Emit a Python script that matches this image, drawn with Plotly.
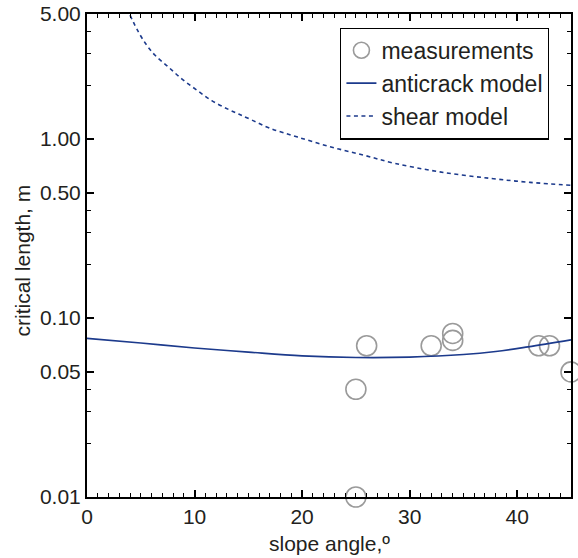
import plotly.graph_objects as go
import numpy as np

# Measurements
meas_angle = [25, 25, 26, 32, 34, 34, 42, 43, 45]
meas_length = [0.01, 0.04, 0.07, 0.07, 0.082, 0.075, 0.07, 0.07, 0.05]

# Anticrack model
anti_angle = [0, 5, 10, 15, 20, 25, 30, 35, 38, 41, 45]
anti_length = [0.077, 0.0725, 0.068, 0.0645, 0.0615, 0.0602, 0.0605, 0.0625, 0.065, 0.069, 0.0755]

# Shear model
shear_angle = [4.0, 4.77, 5.55, 6.33, 7.56, 8.81, 10.2, 11.6, 13.1, 14.1, 15.3, 17.0, 19.5,
               22.6, 25.7, 28.6, 32.8, 37.5, 41.2, 45.0]
shear_length = [4.93, 3.98, 3.35, 2.94, 2.53, 2.17, 1.88, 1.64, 1.47, 1.38, 1.28, 1.15, 1.03,
                0.906, 0.814, 0.732, 0.656, 0.603, 0.573, 0.552]

# Axis ticks
x_ticks = [0, 10, 20, 30, 40]
x_minor = [v for v in range(0, 46) if v % 10 != 0]
y_ticks = [0.01, 0.05, 0.1, 0.5, 1, 5]
y_tick_labels = ["0.01", "0.05", "0.10", "0.50", "1.00", "5.00"]
y_minor = [0.02, 0.03, 0.04, 0.2, 0.3, 0.4, 2, 3, 4]

NAVY = "#1c3a8c"
FONT = "Liberation Sans, Arial, sans-serif"
TXT = "#231f20"

fig = go.Figure()
fig.add_trace(go.Scatter(
    x=meas_angle, y=meas_length, mode="markers", name="measurements",
    marker=dict(symbol="circle-open", size=20, color="#9a9a9a", line=dict(width=1.6, color="#9a9a9a")),
    cliponaxis=False,
))
fig.add_trace(go.Scatter(
    x=anti_angle, y=anti_length, mode="lines", name="anticrack model",
    line=dict(color=NAVY, width=1.6, shape="spline"),
))
fig.add_trace(go.Scatter(
    x=shear_angle, y=shear_length, mode="lines", name="shear model",
    line=dict(color=NAVY, width=1.6, dash="4px,3.5px", shape="spline"),
))

fig.update_layout(
    width=578, height=558,
    margin=dict(l=87, r=7, t=14, b=61, autoexpand=False),
    paper_bgcolor="white", plot_bgcolor="white",
    font=dict(family=FONT, size=21, color=TXT),
    showlegend=True,
    legend=dict(
        x=0.523, y=0.972, xanchor="left", yanchor="top",
        bgcolor="white", bordercolor="black", borderwidth=1.3,
        font=dict(family=FONT, size=23, color=TXT),
        itemwidth=30, tracegroupgap=0,
    ),
    annotations=[
        dict(text="slope angle,º", xref="paper", yref="paper", x=0.5, y=-0.096,
             xanchor="center", yanchor="middle", showarrow=False,
             font=dict(family=FONT, size=21, color=TXT)),
        dict(text="critical length, m", xref="paper", yref="paper", x=-0.134, y=0.49,
             xanchor="center", yanchor="middle", showarrow=False, textangle=-90,
             font=dict(family=FONT, size=21, color=TXT)),
    ],
)

fig.update_xaxes(
    range=[0, 45], tickmode="array", tickvals=x_ticks, automargin=False,
    ticks="inside", ticklen=7, tickwidth=1.5, tickcolor="black",
    minor=dict(tickvals=x_minor, ticks="inside", ticklen=4, tickwidth=1.2, tickcolor="black"),
    showline=True, linecolor="black", linewidth=2, mirror="ticks",
    showgrid=False, zeroline=False,
    tickfont=dict(family=FONT, size=21, color=TXT),
)
fig.update_yaxes(
    type="log", range=[-2, np.log10(5) + 1e-9], automargin=False,
    tickmode="array", tickvals=y_ticks, ticktext=y_tick_labels,
    ticks="inside", ticklen=7, tickwidth=1.5, tickcolor="black",
    minor=dict(tickvals=y_minor, ticks="inside", ticklen=4, tickwidth=1.2, tickcolor="black"),
    showline=True, linecolor="black", linewidth=2, mirror="ticks",
    showgrid=False, zeroline=False,
    tickfont=dict(family=FONT, size=21, color=TXT),
)

fig.write_html("out.html", config={"displayModeBar": False},
               post_script="document.body.style.margin='0';")
